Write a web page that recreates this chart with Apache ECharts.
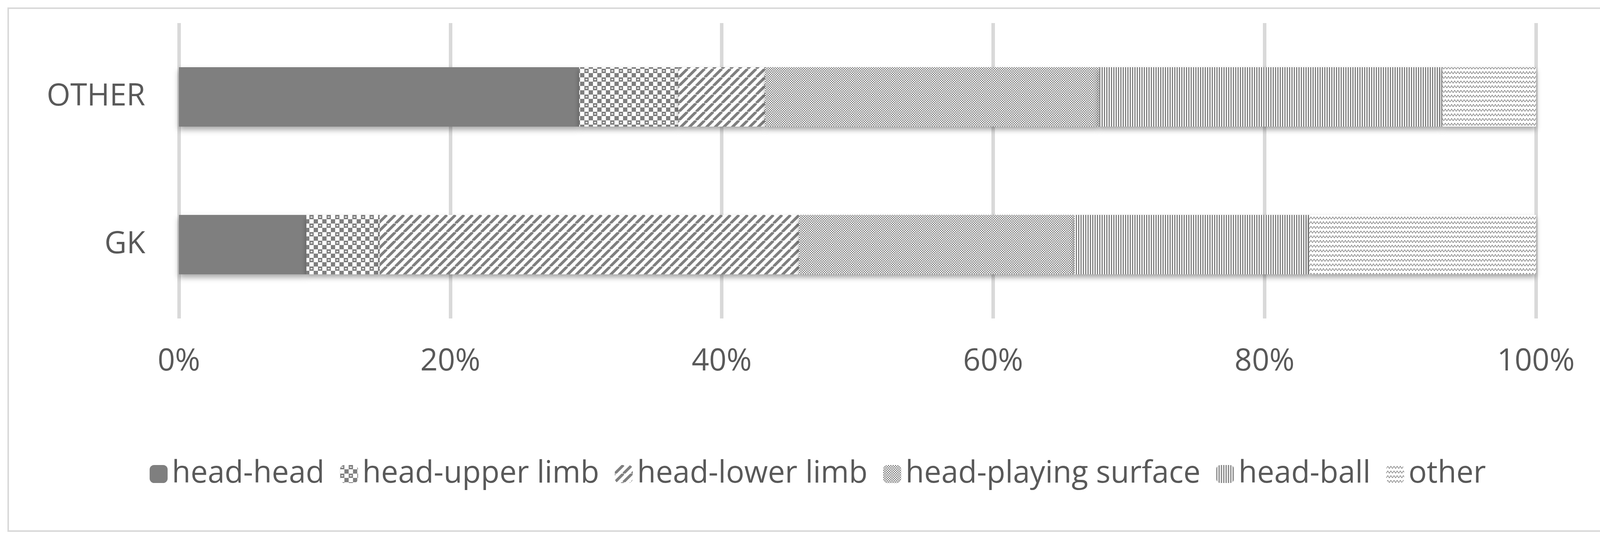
<!DOCTYPE html>
<html>
<head>
<meta charset="utf-8">
<script src="https://cdn.jsdelivr.net/npm/echarts@6/dist/echarts.min.js"></script>
<style>
html, body { margin: 0; padding: 0; background: #fff; }
#main { width: 4187px; height: 1387px; }
</style>
</head>
<body>
<div id="main"></div>
<script>
var categories = ['GK', 'OTHER'];
var seriesNames = ['head-head', 'head-upper limb', 'head-lower limb', 'head-playing surface', 'head-ball', 'other'];
var headHead = [9.4, 29.5];
var headUpperLimb = [5.4, 7.3];
var headLowerLimb = [30.9, 6.4];
var headPlayingSurface = [20.3, 24.6];
var headBall = [17.3, 25.3];
var otherValues = [16.7, 6.9];
var tickLabels = ['0%', '20%', '40%', '60%', '80%', '100%'];

var GREY = '#7f7f7f';

function makeCanvas(w, h, draw) {
    var c = document.createElement('canvas');
    c.width = w; c.height = h;
    var ctx = c.getContext('2d');
    ctx.fillStyle = '#fff';
    ctx.fillRect(0, 0, w, h);
    ctx.fillStyle = GREY;
    ctx.strokeStyle = GREY;
    draw(ctx);
    return { image: c, repeat: 'repeat' };
}

// large checker with small marks
var patUpper = makeCanvas(22, 22, function(ctx) {
    ctx.fillRect(0, 0, 11, 11);
    ctx.fillRect(11, 11, 11, 11);
    ctx.fillStyle = '#eee';
    ctx.fillRect(3, 4, 5, 3);
    ctx.fillStyle = GREY;
    ctx.fillRect(14, 15, 5, 3);
});
// diagonal stripes
var patLower = makeCanvas(22, 22, function(ctx) {
    ctx.lineWidth = 7;
    for (var i = -22; i <= 44; i += 22) {
        ctx.beginPath();
        ctx.moveTo(i, 22);
        ctx.lineTo(i + 22, 0);
        ctx.stroke();
    }
});
// fine checker
var patSurface = makeCanvas(6, 6, function(ctx) {
    ctx.fillRect(0, 0, 3, 3);
    ctx.fillRect(3, 3, 3, 3);
});
// vertical lines
var patBall = makeCanvas(6, 6, function(ctx) {
    ctx.fillRect(0, 0, 3, 6);
});
// wave
var patOther = makeCanvas(16, 12, function(ctx) {
    ctx.lineWidth = 1.5;
    ctx.beginPath();
    ctx.moveTo(0, 9);
    ctx.lineTo(4, 3);
    ctx.lineTo(8, 9);
    ctx.lineTo(12, 3);
    ctx.lineTo(16, 9);
    ctx.stroke();
});

var fills = [GREY, patUpper, patLower, patSurface, patBall, patOther];
var values = [headHead, headUpperLimb, headLowerLimb, headPlayingSurface, headBall, otherValues];

var myChart = echarts.init(document.getElementById('main'));

var series = seriesNames.map(function(name, i) {
    return {
        name: name,
        type: 'bar',
        stack: 'total',
        barWidth: 152,
        data: values[i],
        itemStyle: {
            color: fills[i],
            shadowColor: 'rgba(0,0,0,0.35)',
            shadowBlur: 14,
            shadowOffsetY: 8
        }
    };
});

var textColor = '#595959';

option = {
    backgroundColor: '#fff',
    animation: false,
    graphic: [{
        type: 'rect',
        shape: { x: 21, y: 21, width: 4141, height: 1338 },
        style: { fill: 'none', stroke: '#d9d9d9', lineWidth: 4 }
    }],
    grid: { left: 458, right: 255, top: 59, bottom: 572 },
    legend: {
        bottom: 130,
        left: 'center',
        itemWidth: 46,
        itemHeight: 46,
        itemGap: 40,
        textStyle: { fontSize: 78, color: textColor, fontFamily: 'Open Sans', padding: [0, 0, 0, 6] },
        data: seriesNames
    },
    xAxis: {
        type: 'value',
        min: 0,
        max: 100,
        interval: 20,
        axisLine: { show: false },
        axisTick: { show: false },
        splitLine: { lineStyle: { color: '#d9d9d9', width: 9 } },
        axisLabel: {
            fontSize: 78,
            color: textColor,
            fontFamily: 'Open Sans',
            margin: 72,
            formatter: function(v) { return tickLabels[v / 20]; }
        }
    },
    yAxis: {
        type: 'category',
        data: categories,
        axisLine: { show: false },
        axisTick: { show: false },
        axisLabel: { fontSize: 78, color: textColor, fontFamily: 'Open Sans', margin: 86 }
    },
    series: series
};
myChart.setOption(option);
</script>
</body>
</html>
